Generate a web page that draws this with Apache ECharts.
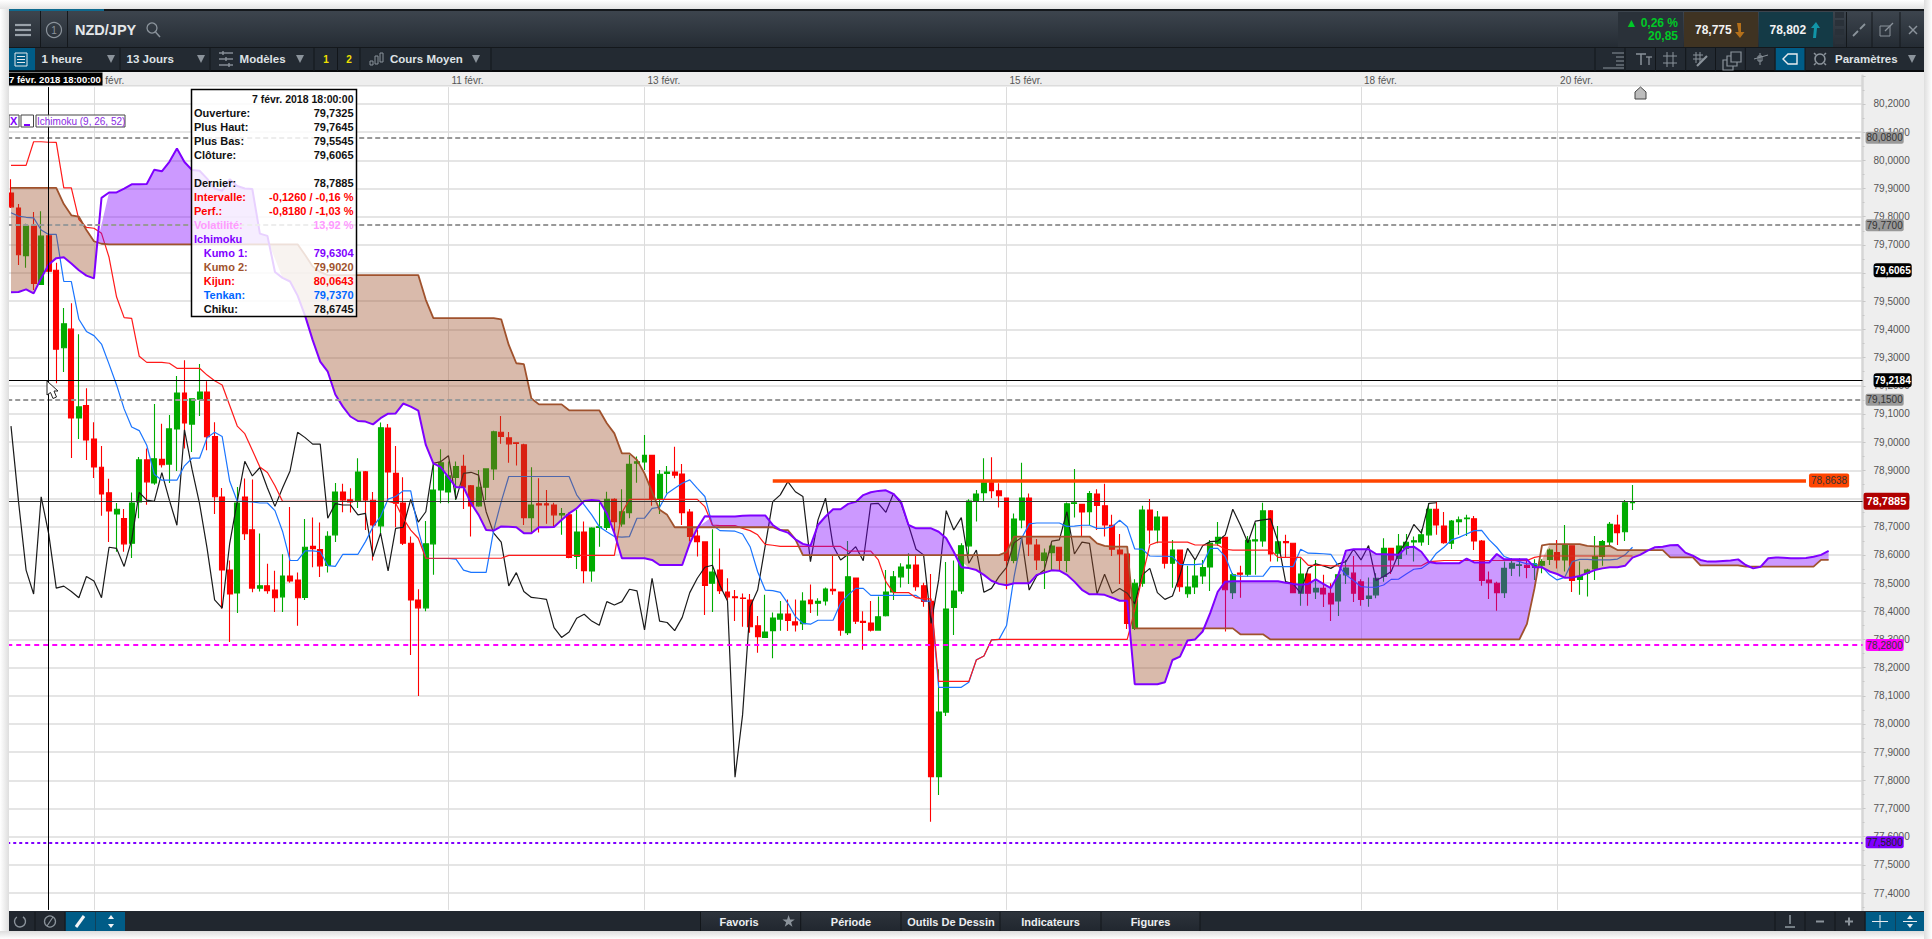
<!DOCTYPE html>
<html lang="fr"><head><meta charset="utf-8"><title>NZD/JPY</title>
<style>html,body{margin:0;padding:0;background:#fff}#c{width:1932px;height:939px}</style>
<script src="https://cdn.jsdelivr.net/npm/echarts@6/dist/echarts.min.js"></script></head>
<body><div id="c"></div>
<script>
const bodyTop=[79.884,79.831,79.767,79.767,79.731,79.7325,79.610,79.420,79.401,79.125,
79.130,79.011,78.911,78.820,78.762,78.729,78.784,78.937,78.937,78.941,
78.939,79.047,79.174,79.174,79.154,79.178,79.178,79.020,78.805,78.546,
78.784,78.805,78.689,78.490,78.490,78.475,78.525,78.525,78.511,78.627,
78.630,78.619,78.666,78.823,78.823,78.795,78.894,78.895,78.794,79.051,
79.050,78.889,78.784,78.641,78.440,78.639,78.830,78.927,78.881,78.913,
78.914,78.845,78.840,78.905,79.037,79.035,79.015,78.998,78.991,78.777,
78.781,78.781,78.777,78.747,78.742,78.681,78.681,78.695,78.700,78.797,
78.797,78.753,78.921,78.930,78.953,78.953,78.886,78.894,78.894,78.887,
78.752,78.667,78.646,78.539,78.546,78.468,78.451,78.447,78.440,78.348,
78.326,78.376,78.390,78.390,78.362,78.436,78.440,78.435,78.479,78.478,
78.468,78.522,78.518,78.364,78.358,78.380,78.468,78.522,78.557,78.564,
78.564,78.490,78.435,78.042,78.408,78.472,78.632,78.791,78.816,78.856,
78.856,78.827,78.802,78.727,78.802,78.802,78.635,78.606,78.631,78.627,
78.781,78.785,78.779,78.818,78.816,78.774,78.705,78.617,78.603,78.499,
78.759,78.759,78.734,78.734,78.617,78.617,78.486,78.525,78.555,78.641,
78.662,78.662,78.529,78.535,78.652,78.653,78.756,78.756,78.646,78.647,
78.641,78.532,78.532,78.481,78.481,78.464,78.529,78.553,78.535,78.504,
78.454,78.517,78.623,78.623,78.631,78.645,78.650,78.671,78.762,78.762,
78.702,78.720,78.724,78.731,78.728,78.649,78.511,78.499,78.552,78.570,
78.565,78.563,78.568,78.576,78.617,78.608,78.635,78.632,78.523,78.546,
78.594,78.647,78.708,78.706,78.785,78.7885];
const bodyBottom=[79.835,79.665,79.662,79.563,79.560,79.6065,79.330,79.335,79.086,79.086,
79.008,78.912,78.816,78.756,78.745,78.639,78.641,78.788,78.859,78.855,
78.920,78.922,79.047,79.068,79.064,79.152,79.019,78.806,78.546,78.461,
78.465,78.675,78.482,78.482,78.473,78.448,78.451,78.507,78.448,78.449,
78.622,78.561,78.562,78.671,78.795,78.788,78.792,78.795,78.706,78.703,
78.894,78.783,78.641,78.440,78.412,78.412,78.639,78.830,78.823,78.875,
78.840,78.774,78.774,78.840,78.905,79.020,78.994,78.995,78.732,78.732,
78.777,78.777,78.742,78.742,78.591,78.594,78.544,78.543,78.697,78.697,
78.718,78.710,78.750,78.925,78.930,78.797,78.797,78.889,78.883,78.750,
78.665,78.647,78.491,78.499,78.473,78.451,78.448,78.445,78.345,78.310,
78.307,78.331,78.372,78.367,78.351,78.356,78.427,78.428,78.436,78.473,
78.333,78.324,78.365,78.360,78.333,78.333,78.384,78.468,78.522,78.553,
78.487,78.435,77.813,77.813,78.042,78.413,78.472,78.632,78.791,78.821,
78.828,78.810,78.580,78.580,78.724,78.639,78.582,78.580,78.608,78.580,
78.580,78.782,78.752,78.753,78.775,78.706,78.620,78.603,78.357,78.339,
78.499,78.688,78.688,78.570,78.570,78.487,78.462,78.486,78.525,78.557,
78.641,78.476,78.466,78.531,78.531,78.649,78.649,78.603,78.606,78.643,
78.466,78.464,78.464,78.468,78.461,78.426,78.436,78.529,78.464,78.442,
78.445,78.458,78.523,78.582,78.587,78.623,78.646,78.646,78.671,78.706,
78.643,78.641,78.718,78.728,78.649,78.509,78.501,78.466,78.466,78.553,
78.562,78.555,78.555,78.563,78.584,78.582,78.582,78.509,78.513,78.535,
78.550,78.594,78.646,78.679,78.682,78.785];
const priceHigh=[79.933,79.845,79.775,79.817,79.819,79.7645,79.637,79.476,79.493,79.383,
79.191,79.071,78.986,78.870,78.784,78.763,78.821,78.947,78.977,79.135,
79.065,79.096,79.235,79.291,79.154,79.277,79.216,79.071,78.837,78.580,
78.841,78.871,78.867,78.676,78.568,78.544,78.602,78.770,78.537,78.727,
78.733,78.715,78.684,78.855,78.852,78.836,78.943,78.898,78.823,79.070,
79.064,78.986,78.875,78.665,78.478,78.720,78.921,78.975,78.931,78.931,
78.955,78.848,78.901,78.907,79.040,79.093,79.036,79.000,78.994,78.911,
78.872,78.830,78.785,78.766,78.750,78.759,78.718,78.698,78.785,78.824,
78.801,78.833,78.954,78.949,79.025,78.953,78.901,78.915,78.984,78.922,
78.763,78.688,78.647,78.691,78.623,78.517,78.475,78.463,78.461,78.383,
78.458,78.395,78.436,78.442,78.442,78.467,78.495,78.446,78.484,78.596,
78.468,78.649,78.518,78.400,78.436,78.452,78.546,78.543,78.570,78.606,
78.600,78.501,78.532,78.194,78.575,78.580,78.641,78.797,78.830,78.943,
78.946,78.854,78.802,78.747,78.927,78.818,78.656,78.623,78.640,78.627,
78.786,78.905,78.779,78.827,78.833,78.852,78.742,78.674,78.603,78.513,
78.774,78.798,78.756,78.734,78.653,78.617,78.561,78.582,78.582,78.653,
78.717,78.662,78.536,78.561,78.667,78.712,78.785,78.759,78.702,78.671,
78.641,78.588,78.535,78.582,78.529,78.499,78.540,78.582,78.596,78.513,
78.520,78.535,78.659,78.623,78.674,78.674,78.665,78.691,78.783,78.789,
78.752,78.724,78.736,78.742,78.738,78.653,78.541,78.505,78.576,78.588,
78.588,78.584,78.584,78.584,78.623,78.653,78.706,78.632,78.576,78.551,
78.667,78.653,78.717,78.742,78.795,78.848];
const priceLow=[79.831,79.629,79.619,79.540,79.558,79.5545,79.209,79.249,78.944,79.011,
78.937,78.873,78.739,78.646,78.611,78.611,78.589,78.730,78.778,78.849,
78.910,78.855,78.898,78.977,78.965,79.093,78.971,78.745,78.409,78.291,
78.394,78.653,78.467,78.470,78.462,78.397,78.397,78.501,78.348,78.440,
78.556,78.521,78.537,78.646,78.751,78.750,78.766,78.688,78.580,78.677,
78.789,78.698,78.635,78.245,78.099,78.400,78.529,78.783,78.783,78.795,
78.763,78.665,78.771,78.795,78.866,78.994,78.927,78.917,78.706,78.677,
78.679,78.710,78.700,78.671,78.588,78.550,78.499,78.505,78.629,78.688,
78.671,78.700,78.730,78.856,78.901,78.774,78.745,78.818,78.872,78.706,
78.647,78.594,78.387,78.397,78.461,78.439,78.365,78.345,78.324,78.253,
78.305,78.233,78.331,78.330,78.328,78.333,78.394,78.384,78.420,78.458,
78.313,78.316,78.355,78.263,78.328,78.331,78.381,78.440,78.484,78.497,
78.473,78.416,77.653,77.748,78.028,78.316,78.461,78.600,78.718,78.791,
78.801,78.768,78.478,78.570,78.694,78.596,78.546,78.479,78.546,78.546,
78.538,78.733,78.667,78.706,78.688,78.665,78.596,78.497,78.337,78.333,
78.487,78.639,78.641,78.552,78.483,78.469,78.448,78.461,78.497,78.472,
78.632,78.328,78.443,78.448,78.523,78.529,78.629,78.576,78.576,78.591,
78.464,78.419,78.419,78.443,78.415,78.365,78.383,78.497,78.433,78.419,
78.416,78.446,78.505,78.532,78.561,78.600,78.576,78.632,78.635,78.671,
78.639,78.621,78.671,78.667,78.617,78.490,78.443,78.402,78.447,78.525,
78.523,78.517,78.511,78.535,78.564,78.552,78.541,78.468,78.458,78.452,
78.511,78.561,78.635,78.635,78.649,78.759];
const risingBars=[2,4,7,9,14,16,17,19,21,22,24,25,30,33,36,39,42,43,46,49,55,56,57,58,59,62,63,64,69,73,75,77,78,79,81,82,83,84,86,87,93,100,101,102,105,107,108,111,115,116,117,118,119,123,124,125,126,127,128,129,133,134,137,138,140,141,143,149,150,152,154,156,157,158,159,160,162,164,165,166,168,171,173,176,177,180,181,182,184,185,186,187,188,191,192,193,198,199,200,202,203,204,206,208,209,210,211,212,214,215];
const kijun=[79.982,79.982,79.982,80.066,80.066,80.0643,80.064,79.902,79.902,79.790,
79.762,79.759,79.741,79.656,79.515,79.442,79.439,79.305,79.283,79.283,
79.283,79.280,79.262,79.262,79.262,79.262,79.238,79.218,79.203,79.130,
79.057,79.030,78.971,78.912,78.892,78.845,78.790,78.790,78.790,78.790,
78.790,78.790,78.790,78.790,78.790,78.790,78.790,78.790,78.790,78.790,
78.790,78.783,78.730,78.688,78.659,78.588,78.588,78.588,78.588,78.588,
78.588,78.588,78.588,78.588,78.588,78.588,78.598,78.598,78.598,78.598,
78.598,78.598,78.598,78.598,78.598,78.598,78.598,78.598,78.598,78.598,
78.598,78.750,78.797,78.797,78.797,78.797,78.797,78.797,78.797,78.797,
78.797,78.797,78.771,78.706,78.704,78.704,78.704,78.694,78.686,78.671,
78.637,78.634,78.630,78.630,78.630,78.630,78.630,78.630,78.630,78.630,
78.630,78.613,78.613,78.613,78.613,78.582,78.505,78.466,78.466,78.466,
78.448,78.444,78.444,78.151,78.151,78.151,78.151,78.151,78.227,78.241,
78.298,78.300,78.300,78.300,78.300,78.300,78.300,78.300,78.300,78.300,
78.300,78.300,78.300,78.300,78.300,78.300,78.300,78.300,78.300,78.404,
78.523,78.635,78.645,78.645,78.645,78.645,78.645,78.635,78.635,78.635,
78.635,78.620,78.617,78.617,78.617,78.617,78.617,78.617,78.591,78.591,
78.591,78.591,78.563,78.563,78.563,78.561,78.561,78.561,78.561,78.561,
78.561,78.561,78.561,78.561,78.561,78.561,78.561,78.561,78.576,78.578,
78.580,78.580,78.580,78.580,78.580,78.580,78.580,78.580,78.580,78.580,
78.580,78.580,78.591,78.596,78.596,78.596,78.596,78.596,78.596,78.596,
78.596,78.596,78.596,78.596,78.596,78.596];
const tenkan=[79.814,79.802,79.798,79.796,79.753,79.737,79.737,79.570,79.570,79.436,
79.393,79.378,79.348,79.277,79.203,79.118,79.054,79.041,78.989,78.886,
78.865,78.865,78.865,78.916,78.943,78.943,79.016,79.035,79.020,78.861,
78.790,78.790,78.788,78.784,78.784,78.757,78.684,78.580,78.580,78.614,
78.614,78.611,78.562,78.559,78.602,78.602,78.602,78.647,78.700,78.736,
78.798,78.807,78.827,78.827,78.688,78.588,78.587,78.587,78.587,78.585,
78.546,78.538,78.538,78.538,78.688,78.789,78.878,78.878,78.878,78.878,
78.878,78.878,78.878,78.878,78.878,78.813,78.777,78.742,78.700,78.682,
78.665,78.663,78.665,78.730,78.730,78.765,78.769,78.818,78.836,78.854,
78.866,78.836,78.807,78.706,78.686,78.685,78.684,78.674,78.629,78.540,
78.475,78.473,78.467,78.428,78.381,78.357,78.354,78.368,78.368,78.368,
78.428,78.458,78.481,78.481,78.456,78.456,78.456,78.456,78.456,78.456,
78.456,78.437,78.435,78.130,78.130,78.130,78.130,78.148,78.228,78.241,
78.298,78.300,78.349,78.523,78.659,78.710,78.713,78.713,78.713,78.713,
78.701,78.702,78.705,78.705,78.694,78.694,78.700,78.723,78.700,78.621,
78.620,78.596,78.595,78.595,78.594,78.566,78.565,78.565,78.568,78.623,
78.623,78.594,78.527,78.524,78.524,78.524,78.524,78.558,78.558,78.558,
78.558,78.620,78.606,78.605,78.604,78.602,78.561,78.529,78.509,78.487,
78.485,78.485,78.493,78.513,78.514,78.532,78.549,78.552,78.570,78.606,
78.627,78.653,78.662,78.674,78.686,78.687,78.653,78.627,78.594,78.584,
78.576,78.568,78.568,78.558,78.529,78.511,78.520,78.576,78.584,78.584,
78.582,78.582,78.582,78.585,78.600,78.627];
const chiku=[79.057,78.788,78.546,78.461,78.806,78.6745,78.482,78.489,78.470,78.448,
78.523,78.507,78.448,78.627,78.623,78.559,78.653,78.822,78.794,78.790,
78.892,78.794,78.705,79.044,78.904,78.782,78.623,78.440,78.411,78.641,
78.790,78.932,78.880,78.910,78.837,78.772,78.837,78.898,79.035,79.016,
78.993,78.993,78.730,78.782,78.777,78.777,78.742,78.747,78.594,78.677,
78.543,78.694,78.698,78.797,78.716,78.753,78.925,78.931,78.952,78.797,
78.889,78.893,78.883,78.753,78.677,78.645,78.490,78.537,78.470,78.449,
78.446,78.442,78.342,78.307,78.326,78.375,78.389,78.365,78.350,78.434,
78.422,78.434,78.478,78.472,78.334,78.517,78.365,78.360,78.331,78.378,
78.466,78.517,78.556,78.563,78.491,78.436,77.811,78.032,78.416,78.475,
78.632,78.789,78.813,78.860,78.824,78.807,78.576,78.724,78.801,78.632,
78.582,78.602,78.629,78.579,78.781,78.783,78.751,78.818,78.783,78.706,
78.620,78.600,78.357,78.511,78.757,78.688,78.732,78.570,78.617,78.467,
78.481,78.523,78.556,78.643,78.662,78.475,78.525,78.546,78.649,78.653,
78.753,78.603,78.645,78.641,78.461,78.531,78.464,78.481,78.464,78.426,
78.529,78.552,78.466,78.442,78.454,78.529,78.623,78.582,78.632,78.647,
78.649,78.671,78.762,78.706,78.643,78.720,78.724,78.728,78.647,78.505,
78.497,78.464,78.552,78.568,78.561,78.552,78.568,78.576,78.620,78.582,
78.633,78.509,78.523,78.541,78.606,78.649,78.708,78.677,78.783,78.785];
const kumo1=[79.532,79.533,79.542,79.528,79.582,79.6304,79.653,79.656,79.634,79.610,
79.591,79.581,79.867,79.886,79.886,79.900,79.915,79.915,79.916,79.967,
79.961,79.995,80.042,79.994,79.966,79.963,79.935,79.900,79.892,79.933,
79.909,79.900,79.898,79.740,79.732,79.604,79.583,79.570,79.520,79.448,
79.362,79.286,79.250,79.169,79.126,79.091,79.075,79.073,79.063,79.085,
79.101,79.102,79.137,79.126,79.112,78.990,78.925,78.911,78.875,78.840,
78.840,78.783,78.742,78.688,78.686,78.701,78.700,78.698,78.677,78.677,
78.698,78.698,78.699,78.724,78.747,78.765,78.791,78.795,78.792,78.747,
78.677,78.588,78.588,78.588,78.588,78.582,78.564,78.564,78.564,78.564,
78.641,78.694,78.737,78.736,78.736,78.736,78.736,78.739,78.740,78.740,
78.740,78.706,78.688,78.679,78.655,78.639,78.632,78.706,78.736,78.762,
78.762,78.781,78.788,78.812,78.822,78.827,78.829,78.816,78.789,78.706,
78.694,78.694,78.694,78.682,78.659,78.611,78.556,78.553,78.546,78.529,
78.508,78.497,78.492,78.499,78.499,78.499,78.529,78.537,78.545,78.544,
78.529,78.505,78.476,78.460,78.460,78.458,78.448,78.437,78.437,78.141,
78.141,78.141,78.141,78.148,78.227,78.239,78.296,78.300,78.328,78.393,
78.469,78.505,78.506,78.506,78.506,78.506,78.506,78.506,78.506,78.501,
78.497,78.494,78.497,78.513,78.497,78.482,78.529,78.615,78.620,78.620,
78.620,78.603,78.602,78.601,78.600,78.627,78.629,78.611,78.575,78.570,
78.570,78.570,78.570,78.587,78.573,78.573,78.573,78.603,78.584,78.584,
78.584,78.584,78.556,78.556,78.541,78.532,78.519,78.520,78.525,78.535,
78.546,78.552,78.556,78.556,78.561,78.590,78.600,78.615,78.627,78.629,
78.634,78.635,78.608,78.597,78.582,78.576,78.576,78.578,78.580,78.584,
78.564,78.552,78.558,78.588,78.591,78.590,78.588,78.588,78.589,78.593,78.600,78.614];
const kumo2=[79.902,79.902,79.902,79.902,79.902,79.902,79.902,79.845,79.805,79.800,
79.753,79.713,79.704,79.702,79.702,79.702,79.702,79.702,79.702,79.702,
79.702,79.702,79.702,79.702,79.702,79.702,79.702,79.702,79.702,79.702,
79.702,79.702,79.702,79.702,79.702,79.702,79.702,79.702,79.702,79.664,
79.623,79.604,79.593,79.593,79.593,79.593,79.593,79.593,79.593,79.593,
79.593,79.593,79.593,79.593,79.593,79.505,79.440,79.440,79.440,79.440,
79.440,79.440,79.440,79.440,79.440,79.436,79.345,79.280,79.277,79.155,
79.134,79.134,79.134,79.134,79.113,79.113,79.113,79.113,79.113,79.067,
79.031,78.960,78.960,78.937,78.889,78.824,78.760,78.742,78.698,78.698,
78.698,78.698,78.698,78.698,78.698,78.698,78.698,78.698,78.698,78.698,
78.698,78.698,78.688,78.688,78.655,78.599,78.599,78.599,78.599,78.599,
78.599,78.599,78.599,78.599,78.599,78.599,78.599,78.599,78.599,78.599,
78.599,78.599,78.599,78.599,78.599,78.599,78.599,78.599,78.599,78.599,
78.599,78.599,78.610,78.665,78.665,78.665,78.665,78.665,78.665,78.665,
78.665,78.665,78.665,78.665,78.641,78.632,78.629,78.629,78.629,78.339,
78.339,78.339,78.339,78.339,78.339,78.339,78.339,78.339,78.339,78.339,
78.339,78.339,78.339,78.318,78.318,78.318,78.318,78.300,78.300,78.300,
78.300,78.300,78.300,78.300,78.300,78.300,78.300,78.300,78.300,78.300,
78.300,78.300,78.300,78.300,78.300,78.300,78.300,78.300,78.300,78.300,
78.300,78.300,78.300,78.300,78.300,78.300,78.300,78.300,78.300,78.300,
78.300,78.355,78.481,78.634,78.638,78.638,78.638,78.638,78.638,78.632,
78.630,78.630,78.632,78.617,78.617,78.617,78.617,78.617,78.617,78.617,
78.591,78.591,78.591,78.591,78.563,78.563,78.563,78.563,78.563,78.563,
78.558,78.558,78.558,78.558,78.558,78.558,78.558,78.558,78.558,78.558,78.582,78.582];
const dateLabels=[[11,'8 févr.'],[58,'11 févr.'],[84,'13 févr.'],[132,'15 févr.'],[179,'18 févr.'],[205,'20 févr.']];
const greyLevels=[80.08,79.77,79.15];
const magentaLevel=78.28, violetLevel=77.58, resistance=78.8638, lastPrice=78.7885, cursorPrice=79.2184, cursorClose=79.6065;
const tooltipRows=[['Ouverture:','79,7325'],['Plus Haut:','79,7645'],['Plus Bas:','79,5545'],['Clôture:','79,6065'],['',''],['Dernier:','78,7885'],['Intervalle:','-0,1260 / -0,16 %'],['Perf.:','-0,8180 / -1,03 %'],['Volatilité:','13,92 %'],['Ichimoku',''],['Kumo 1:','79,6304'],['Kumo 2:','79,9020'],['Kijun:','80,0643'],['Tenkan:','79,7370'],['Chiku:','78,6745']];

const F='"Liberation Sans"';
const comma=(v,d=4)=>v.toFixed(d).replace('.',',');
const N=246;
const cats=Array.from({length:N},(_,i)=>String(i));
const labelMap={};dateLabels.forEach(d=>labelMap[d[0]]=d[1]);
const rising=new Set(risingBars);
const candleData=bodyTop.map((t,i)=>rising.has(i)?[bodyBottom[i],t,priceLow[i],priceHigh[i]]:[t,bodyBottom[i],priceLow[i],priceHigh[i]]);

/* cloud runs between the two kumo lines, split where they cross */
const runs=[];(function(){
  let cur=null;
  for(let i=0;i<kumo1.length-1;i++){
    const a=kumo1[i]-kumo2[i],b=kumo1[i+1]-kumo2[i+1];
    if(!cur)cur={up:a>=0,pts:[i]};
    if((a>=0)!==(b>=0)){const f=i+a/(a-b);cur.pts.push(f);runs.push(cur);cur={up:b>=0,pts:[f]};}
    else cur.pts.push(i+1);
  }
  if(cur)runs.push(cur);
})();
function cloudItem(params,api){
  const run=runs[params.dataIndex];
  const at=(arr,f)=>{const i=Math.min(Math.floor(f),arr.length-2),t=f-i;
    const p=api.coord([i,arr[i]]),q=api.coord([i+1,arr[i+1]]);return [p[0]+(q[0]-p[0])*t,p[1]+(q[1]-p[1])*t];};
  const pts=run.pts.map(f=>at(kumo1,f)).concat(run.pts.slice().reverse().map(f=>at(kumo2,f)));
  return {type:'polygon',shape:{points:pts},style:{fill:run.up?'rgba(127,0,255,0.4)':'rgba(160,82,45,0.4)',stroke:null}};
}

/* interface chrome */
const g=[];
const rect=(x,y,w,h,fill,z=60,extra={})=>g.push({type:'rect',silent:true,z,shape:{x,y,width:w,height:h},style:Object.assign({fill},extra)});
const grad=(a,b)=>({type:'linear',x:0,y:0,x2:0,y2:1,colorStops:[{offset:0,color:a},{offset:1,color:b}]});
const gradH=(a,b)=>({type:'linear',x:0,y:0,x2:1,y2:0,colorStops:[{offset:0,color:a},{offset:1,color:b}]});
const txt=(x,y,text,font,fill,align='left',z=62)=>g.push({type:'text',silent:true,z,x,y,style:{text,font:font+' '+F,fill,textAlign:align,textVerticalAlign:'middle'}});
const seg=(x1,y1,x2,y2,stroke,w=1,z=61)=>g.push({type:'line',silent:true,z,shape:{x1,y1,x2,y2},style:{stroke,lineWidth:w}});
const poly=(pts,fill,stroke,w=1,z=61)=>g.push({type:'polygon',silent:true,z,shape:{points:pts},style:{fill,stroke,lineWidth:w}});
const tri=(x,y)=>poly([[x-4,y-4],[x+4,y-4],[x,y+4]],'#8b939b',null);

rect(0,0,9,939,gradH('#ffffff','#dedede'));
rect(0,0,1932,9,grad('#ffffff','#e4e4e4'));
rect(0,931,1932,8,grad('#dddddd','#ffffff'));
rect(1924,0,8,939,gradH('#dedede','#ffffff'));
/* header */
rect(9,9,1915,38,grad('#3e464f','#252c34'));
rect(9,9,1915,2,'#14181c');rect(9,9,95,2,'#0e6a8f');
seg(40.5,11,40.5,47,'#14181c');seg(67.5,11,67.5,47,'#14181c');
[25,30,35].forEach(y=>seg(15,y,31,y,'#9aa2aa',2.2));
g.push({type:'circle',silent:true,z:61,shape:{cx:54,cy:30,r:7.5},style:{fill:'none',stroke:'#8b939b',lineWidth:1.2}});
txt(54,30.5,'1','10px','#8b939b','center');
txt(75,30,'NZD/JPY','bold 14.5px','#e4e7ea');
g.push({type:'circle',silent:true,z:61,shape:{cx:152,cy:28,r:5},style:{fill:'none',stroke:'#8b939b',lineWidth:1.3}});
seg(155.5,32,160,37,'#8b939b',1.5);
/* header right */
rect(1618,12,65,35,'#2a3139');
txt(1678,23,'▲ 0,26 %','bold 12px','#00c926','right');txt(1678,36,'20,85','bold 12px','#00c926','right');
rect(1684,12,74,35,'#3f3322');rect(1759,12,74,35,'#143a46');
txt(1695,30,'78,775','bold 12px','#f2f2f2');txt(1769.5,30,'78,802','bold 12px','#f2f2f2');
poly([[1737,23],[1741,23],[1741,32],[1744.5,32],[1740,38],[1735,32],[1738.5,32]],'#b5701a',null);
poly([[1813,38],[1816,38],[1817,28],[1820,28],[1816,22],[1811,28],[1814,28]],'#1195a8',null);
[16,24,33,42].forEach(y=>rect(1835,y-4,9,6,'#2a3139',61));
[1846.5,1872,1900].forEach(x=>seg(x,12,x,47,'#14181c'));
seg(1853,36,1858,31,'#8b939b',1.8);seg(1860,29,1865,24,'#8b939b',1.8);
g.push({type:'rect',silent:true,z:61,shape:{x:1880,y:26,width:10,height:10},style:{fill:'none',stroke:'#8b939b',lineWidth:1}});
seg(1885,31,1893,23,'#8b939b',1.2);
seg(1909,26,1917,34,'#8b939b',1.4);seg(1917,26,1909,34,'#8b939b',1.4);
/* toolbar */
rect(9,47,1915,25,'#232a32');seg(9,47.5,1924,47.5,'#14181c',1);seg(9,71,1924,71,'#000',1.5);
rect(9,48,26,23,'#005c87');
g.push({type:'rect',silent:true,z:61,shape:{x:15,y:53,width:12,height:13},style:{fill:'none',stroke:'#e4e7ea',lineWidth:1}});
[56.5,59.5,62.5].forEach(y=>seg(17,y,25,y,'#e4e7ea'));
[120,210,314,337.5,360,491,1595,1625,1655.5,1685.7,1715.5,1745.3,1775,1805].forEach(x=>seg(x,48,x,71,'#12161a'));
const TB='bold 11.5px';
txt(41.6,59,'1 heure',TB,'#dfe2e5');tri(111,59);
txt(126.5,59,'13 Jours',TB,'#dfe2e5');tri(201,59);
[53,59,65].forEach((y,k)=>{seg(219,y,233,y,'#8b939b',1.4);seg(223+k*3,y-2,223+k*3,y+2,'#8b939b',1.4);});
txt(239.6,59,'Modèles',TB,'#dfe2e5');tri(300,59);
txt(326,59,'1','bold 10px','#f0e000','center');txt(349,59,'2','bold 10px','#f0e000','center');
[[370,61,65],[375,56,64],[380,53,62]].forEach(a=>g.push({type:'rect',silent:true,z:61,shape:{x:a[0],y:a[1],width:3,height:a[2]-a[1]},style:{fill:'none',stroke:'#8b939b',lineWidth:1}}));
txt(390,59,'Cours Moyen',TB,'#dfe2e5');tri(476,59);
/* toolbar right icons */
[[1612,1624,53],[1616,1624,57],[1616,1624,61],[1616,1624,65],[1603,1624,68]].forEach(a=>seg(a[0],a[2],a[1],a[2],'#8b939b'));
seg(1641,54,1641,65,'#8b939b',1.5);seg(1636,54,1646,54,'#8b939b',1.5);seg(1649,57,1649,65,'#8b939b',1.3);seg(1646,57,1652,57,'#8b939b',1.3);
[1667,1673].forEach(x=>seg(x,52,x,67,'#8b939b'));[56,63].forEach(y=>seg(1663,y,1677,y,'#8b939b'));
[1696,1700].forEach(x=>seg(x,52,x,63,'#8b939b'));[55,59].forEach(y=>seg(1693,y,1703,y,'#8b939b'));seg(1697,66,1707,56,'#8b939b',2.2);
[[1723,60],[1727,56],[1731,52]].forEach(a=>g.push({type:'rect',silent:true,z:61,shape:{x:a[0],y:a[1],width:10,height:10},style:{fill:'#232a32',stroke:'#8b939b',lineWidth:1.2}}));
seg(1754,59,1768,55,'#8b939b');seg(1760,53,1760,65,'#8b939b');g.push({type:'rect',silent:true,z:61,shape:{x:1758,y:56,width:4,height:5},style:{fill:'none',stroke:'#8b939b'}});
rect(1775.5,48,29.5,23,'#005c87');
poly([[1783,59],[1788,54],[1797,54],[1797,64],[1788,64]],'none','#e8ecef',1.4);
g.push({type:'circle',silent:true,z:61,shape:{cx:1820,cy:59,r:5},style:{fill:'none',stroke:'#8b939b',lineWidth:1.6}});
[[1814,53],[1826,53],[1814,65],[1826,65]].forEach(p=>seg(p[0],p[1],1820+(p[0]-1820)*.7,59+(p[1]-59)*.7,'#8b939b',1.5));
txt(1835,59,'Paramètres',TB,'#dfe2e5');tri(1912,59);
/* date band and price band */
rect(9,72,1915,14,'#eeeeee',-1);
rect(9,85,1853,1.5,'#dcdcdc',-1);
rect(1862.5,86,61.5,826,'#eeeeee',-1);
/* bottom bar */
rect(9,911,1915,20,'#21272f');
[35,65].forEach(x=>seg(x,912,x,931,'#12161a'));
rect(65.5,912,30,19,'#005c87');rect(96,912,29,19,'#005c87');
g.push({type:'arc',silent:true,z:61,shape:{cx:20,cy:921.5,r:5.5,startAngle:-1,endAngle:4.1},style:{fill:'none',stroke:'#8b939b',lineWidth:1.4}});
g.push({type:'circle',silent:true,z:61,shape:{cx:50,cy:921.5,r:5.5},style:{fill:'none',stroke:'#8b939b',lineWidth:1.3}});
seg(47,926,53,917,'#8b939b',1.2);
seg(76,927,84,916,'#f2f4f6',3);
poly([[108,919],[114,919],[111,915]],'#f2f4f6',null);poly([[108,924],[114,924],[111,928]],'#f2f4f6',null);
rect(700,912,500,19,grad('#2d333b','#21272f'));
[700.5,800.7,901,1000,1101,1200,1775,1805,1835,1865].forEach(x=>seg(x,912,x,931,'#12161a'));
const B='bold 11px';
txt(739,921.5,'Favoris',B,'#eceff1','center');
(function(){const c=[788.6,921.5],o=[],r1=6.5,r2=2.6;for(let k=0;k<10;k++){const r=k%2?r2:r1,a=-Math.PI/2+k*Math.PI/5;o.push([c[0]+r*Math.cos(a),c[1]+r*Math.sin(a)]);}poly(o,'#8b939b',null);})();
txt(851,921.5,'Période',B,'#eceff1','center');
txt(951,921.5,'Outils De Dessin',B,'#eceff1','center');
txt(1050.5,921.5,'Indicateurs',B,'#eceff1','center');
txt(1150.5,921.5,'Figures',B,'#eceff1','center');
seg(1790,915,1790,924,'#8b939b',1.6);seg(1785,927,1795,927,'#8b939b',1.6);
seg(1816,921.5,1824,921.5,'#8b939b',2);seg(1845,921.5,1853,921.5,'#8b939b',2);seg(1849,917.5,1849,925.5,'#8b939b',2);
rect(1865.5,912,29.5,19,'#005c87');rect(1895.5,912,28.5,19,'#005c87');
seg(1872,921.5,1888,921.5,'#e8ecef');seg(1880,915,1880,928,'#e8ecef');
seg(1903,921.5,1917,921.5,'#e8ecef');poly([[1907,919],[1913,919],[1910,915]],'#e8ecef',null);poly([[1907,924],[1913,924],[1910,928]],'#e8ecef',null);
/* crosshair date tag */
rect(9,72.5,93.5,13,'#000',58);
txt(9,79.5,'7 févr. 2018 18:00:00','bold 9.5px','#ffffff','left',59);
/* indicator caption */
[[9,115,10,12],[21,115,12.5,12],[36,115,89,12]].forEach(a=>g.push({type:'rect',silent:true,z:40,shape:{x:a[0],y:a[1],width:a[2],height:a[3]},style:{fill:'rgba(255,255,255,.8)',stroke:'#444',lineWidth:1}}));
txt(10,121,'X','bold 11px','#7f00ff','left',41);seg(24,125,30,125,'#7f00ff',2,41);
txt(37,121,'Ichimoku (9, 26, 52)','10px','#8a2be2','left',41);
/* tooltip */
g.push({type:'rect',silent:true,z:40,shape:{x:191.5,y:89.5,width:165,height:227},style:{fill:'rgba(255,255,255,0.82)',stroke:'#000',lineWidth:1.5}});
txt(353.5,99,'7 févr. 2018 18:00:00','bold 10.5px','#111','right',41);
const rowColors=['#111','#111','#111','#111','#111','#111','#ff0000','#ff0000','#ff99ff','#7f00ff','#7f00ff','#a0522d','#ff0000','#0066ff','#111'];
tooltipRows.forEach((r,k)=>{const y=113+14*k,ind=k>=10;
  if(r[0])txt(ind?203.7:194,y,r[0],'bold 11px',rowColors[k],'left',41);
  if(r[1])txt(353.5,y,r[1],'bold 11px',rowColors[k],'right',41);});
/* cursor and pivot marker */
poly([[47,381],[47,395],[50.5,392.5],[53,398.5],[56.5,397],[54,391],[58,391]],'#fff','#222',1,42);
poly([[1635,99],[1635,92],[1640.5,87],[1646,92],[1646,99]],'#bdbdbd','#444',1,42);

/* reference lines */
const vLines=dateLabels.map(d=>[{coord:[d[0],80.26]},{coord:[d[0],77.34]}]);
const tag=(text,bg,color,extra={})=>Object.assign({show:true,position:'end',distance:3,formatter:text,backgroundColor:bg,color,fontSize:10,fontFamily:F,padding:[1,1],borderRadius:2},extra);
const blankLine={type:'line',data:[],silent:true,animation:false,showSymbol:false};
const option={
  animation:false,
  textStyle:{fontFamily:F},
  graphic:{elements:g},
  grid:{left:7.23,right:69.44,top:75.82,bottom:17.82,containLabel:false},
  xAxis:{type:'category',data:cats,position:'top',boundaryGap:true,
    axisLine:{show:false},axisTick:{show:false},splitLine:{show:false},
    axisLabel:{show:true,inside:true,margin:0,align:'left',verticalAlign:'top',padding:[0,0,0,3],fontSize:10,color:'#555',lineHeight:10,
      interval:i=>labelMap[i]!=null,formatter:(v,i)=>labelMap[i]||''}},
  yAxis:{type:'value',position:'right',min:77.3,max:80.3,interval:0.1,scale:true,
    axisLine:{show:true,lineStyle:{color:'#d6d6d6',width:2.5}},
    axisTick:{show:true,length:3,lineStyle:{color:'#c8c8c8'}},
    minorTick:{show:true,splitNumber:2,length:2,lineStyle:{color:'#c8c8c8'}},
    splitLine:{show:true,showMinLine:false,showMaxLine:false,lineStyle:{color:'#dcdcdc',width:1.5}},
    axisLabel:{show:true,margin:11,fontSize:10,color:'#555',showMinLabel:false,showMaxLabel:false,formatter:v=>comma(v)}},
  series:[
    Object.assign({},blankLine,{name:'Grille',z:1,markLine:{z:1,silent:true,symbol:'none',animation:false,label:{show:false},lineStyle:{color:'#dcdcdc',width:1,type:'solid'},data:vLines}}),
    {name:'NZD/JPY',type:'candlestick',z:2,silent:true,barWidth:5.4,animation:false,data:candleData,
      itemStyle:{color:'#00ab00',color0:'#ff0000',borderColor:'#00ab00',borderColor0:'#ff0000',borderWidth:1.1}},
    {name:'Chiku',type:'line',z:3,silent:true,data:chiku,showSymbol:false,lineStyle:{color:'#1a1a1a',width:1.2}},
    {name:'Tenkan',type:'line',z:3,silent:true,data:tenkan,showSymbol:false,lineStyle:{color:'#1a75ff',width:1.2}},
    {name:'Kijun',type:'line',z:3,silent:true,data:kijun,showSymbol:false,lineStyle:{color:'#ff1a1a',width:1.2}},
    {name:'Kumo',type:'custom',z:4,silent:true,clip:true,renderItem:cloudItem,data:runs.map(r=>[r.pts[0],kumo1[Math.floor(r.pts[0])]]),encode:{x:0,y:1}},
    {name:'Kumo 2',type:'line',z:5,silent:true,data:kumo2,showSymbol:false,lineStyle:{color:'#a0522d',width:1.8}},
    {name:'Kumo 1',type:'line',z:5,silent:true,data:kumo1,showSymbol:false,lineStyle:{color:'#7f00ff',width:2}},
    Object.assign({},blankLine,{name:'Niveaux',z:6,markLine:{z:6,silent:true,symbol:'none',animation:false,data:[
      ...greyLevels.map(v=>({yAxis:v,lineStyle:{color:'#999',width:2,type:[5,3]},label:tag(comma(v),'#999','#333')})),
      {yAxis:magentaLevel,lineStyle:{color:'#ff00ff',width:2,type:[5,4]},label:tag(comma(magentaLevel),'#ff00ff','#333')},
      {yAxis:violetLevel,lineStyle:{color:'#7f00ff',width:2,type:[3,3]},label:tag(comma(violetLevel),'#7f00ff','#222')},
      {yAxis:cursorPrice,lineStyle:{color:'#000',width:1,type:'solid'},label:tag(comma(cursorPrice),'#000','#fff',{fontWeight:'bold',distance:11,padding:[2,1],borderRadius:3})},
      {yAxis:lastPrice,lineStyle:{color:'#333',width:1,type:'solid'},label:tag(comma(lastPrice),'#b00000','#fff',{fontWeight:'bold',fontSize:11,distance:1,padding:[3,3],borderRadius:2})},
      {yAxis:cursorClose,lineStyle:{color:'rgba(0,0,0,0)',width:1,type:'solid'},label:tag(comma(cursorClose),'#000','#fff',{fontWeight:'bold',distance:11,padding:[2,1],borderRadius:3})},
      [{coord:[101,resistance],lineStyle:{color:'#ff4500',width:3.5,type:'solid'},label:tag(comma(resistance),'#ff4500','#333',{padding:[2,2]})},{coord:[238,resistance]}],
      [{coord:[5,80.26],lineStyle:{color:'#000',width:1,type:'solid'},label:{show:false}},{coord:[5,77.34]}]
    ]}})
  ]
};
const chart=echarts.init(document.getElementById('c'),null,{renderer:'svg',width:1932,height:939});
chart.setOption(option);
</script></body></html>
